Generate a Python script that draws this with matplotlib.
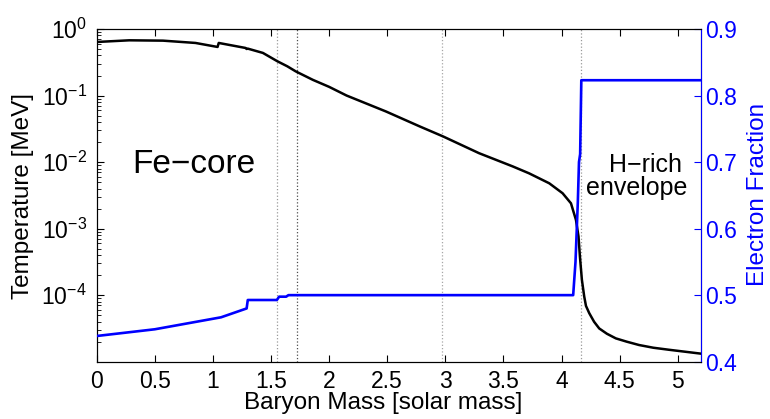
import numpy as np
import matplotlib
matplotlib.use("Agg")
import matplotlib.pyplot as plt
from matplotlib.ticker import LogLocator, FixedLocator, NullFormatter, LogFormatterSciNotation

plt.rcParams['font.family'] = ['Liberation Sans', 'DejaVu Sans']
plt.rcParams['mathtext.fontset'] = 'custom'
plt.rcParams['mathtext.rm'] = 'Liberation Sans'
plt.rcParams['mathtext.it'] = 'Liberation Sans:italic'
plt.rcParams['mathtext.bf'] = 'Liberation Sans:bold'

# Temperature profile of the progenitor star
mass_T = [0.00, 0.28, 0.57, 0.85, 1.04, 1.05, 1.28, 1.29, 1.30, 1.43,
          1.555, 1.64, 1.712, 1.86, 2.00, 2.15, 2.49, 2.78, 2.98, 3.29,
          3.58, 3.72, 3.894, 4.009, 4.081, 4.124, 4.146, 4.158, 4.175, 4.195,
          4.21, 4.238, 4.28, 4.324, 4.39, 4.467, 4.56, 4.667, 4.79, 4.925, 5.20]
temperature = [0.638, 0.676, 0.668, 0.617, 0.537, 0.617, 0.519, 0.501, 0.507, 0.437,
               0.327, 0.275, 0.231, 0.172, 0.135, 0.100, 0.0575, 0.0343, 0.0243, 0.0136,
               0.0086, 0.00678, 0.0048, 0.0034, 0.0024, 0.00135, 0.00076, 0.00038, 0.00017, 0.0000955,
               0.000069, 0.0000537, 0.0000398, 0.0000316, 0.0000263, 0.0000224, 0.0000200, 0.0000178,
               0.0000162, 0.0000151, 0.0000132]

# Electron fraction profile
mass_Ye = [0.00, 0.50, 1.07, 1.27, 1.29, 1.30, 1.55, 1.57, 1.63, 1.65,
           4.10, 4.12, 4.14, 4.15, 4.16, 4.17, 5.20]
ye = [0.4386, 0.4487, 0.4667, 0.4788, 0.480, 0.4927, 0.4927, 0.4977, 0.4977, 0.500,
      0.500, 0.55, 0.64, 0.70, 0.712, 0.823, 0.823]

# Shell boundaries (dotted vertical lines)
boundaries = [1.55, 1.72, 2.97, 4.17]
boundary_shades = ['0.6', '0.3', '0.65', '0.6']

x_ticks = [0, 0.5, 1, 1.5, 2, 2.5, 3, 3.5, 4, 4.5, 5]
x_tick_labels = ['0', '0.5', '1', '1.5', '2', '2.5', '3', '3.5', '4', '4.5', '5']
ye_ticks = [0.4, 0.5, 0.6, 0.7, 0.8, 0.9]
ye_tick_labels = ['0.4', '0.5', '0.6', '0.7', '0.8', '0.9']
t_ticks = [1e-4, 1e-3, 1e-2, 1e-1, 1e0]

BLUE = '#0000ff'
TICK_FS = 16.5
LABEL_FS = 17.5

fig = plt.figure(figsize=(7.70, 4.19), dpi=100)
ax = fig.add_axes([0.1256, 0.1368, 0.7848, 0.794])

for xb, c in zip(boundaries, boundary_shades):
    ax.axvline(xb, color=c, linestyle=':', linewidth=0.9, zorder=1)

ax.plot(mass_T, temperature, color='black', linewidth=1.8, zorder=3)
ax.set_yscale('log')
ax.set_xlim(0, 5.2)
ax.set_ylim(1e-5, 1e0)
ax.set_xticks(x_ticks)
ax.set_xticklabels(x_tick_labels)
ax.yaxis.set_major_locator(FixedLocator(t_ticks))
ax.yaxis.set_major_formatter(LogFormatterSciNotation())
ax.yaxis.set_minor_locator(LogLocator(base=10, subs=np.arange(2, 10), numticks=20))
ax.yaxis.set_minor_formatter(NullFormatter())
ax.tick_params(axis='both', which='major', direction='in', length=5, width=0.8,
               labelsize=TICK_FS, top=True, right=True)
ax.tick_params(axis='y', which='minor', direction='in', length=3, width=0.6, right=True)
ax.tick_params(axis='x', which='major', pad=6)
ax.tick_params(axis='y', which='major', pad=7)

ax2 = ax.twinx()
ax2.plot(mass_Ye, ye, color=BLUE, linewidth=1.9, zorder=4)
ax2.set_ylim(0.4, 0.9)
ax2.set_xlim(0, 5.2)
ax2.set_yticks(ye_ticks)
ax2.set_yticklabels(ye_tick_labels)
ax2.tick_params(axis='y', direction='in', length=5, width=0.8, colors=BLUE,
                labelsize=TICK_FS, pad=3)

for a in (ax, ax2):
    for s in a.spines.values():
        s.set_linewidth(0.8)
ax2.spines['right'].set_color(BLUE)

ax.text(0.303, 0.0068, 'Fe\u2212core', fontsize=24, ha='left', va='baseline', zorder=5)
ax.text(5.04, 0.0071, 'H\u2212rich', fontsize=18, ha='right', va='baseline', zorder=5)
ax.text(5.08, 0.0032, 'envelope', fontsize=18, ha='right', va='baseline', zorder=5)

fig.text(0.497, 10 / 419, 'Baryon Mass [solar mass]', fontsize=LABEL_FS,
         ha='center', va='baseline')
fig.text(23 / 770, 1 - 196 / 419, 'Temperature [MeV]', fontsize=LABEL_FS,
         rotation=90, ha='center', va='center')
fig.text(758 / 770, 1 - 194 / 419, 'Electron Fraction', fontsize=LABEL_FS, color=BLUE,
         rotation=90, ha='center', va='center')

fig.savefig('out.png', dpi=100)
